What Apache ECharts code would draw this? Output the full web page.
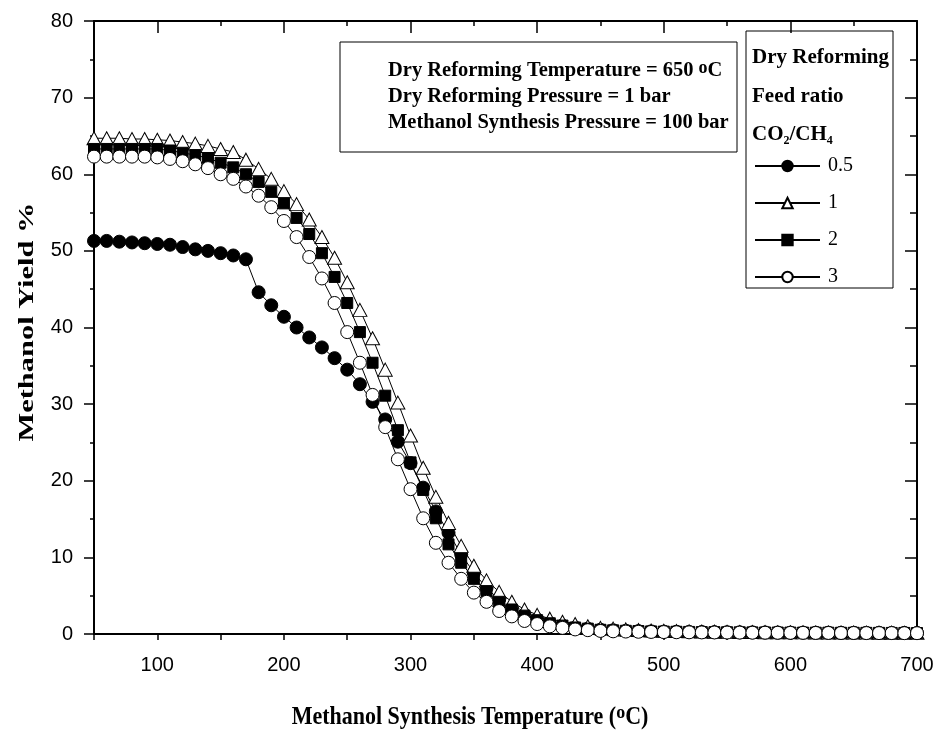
<!DOCTYPE html>
<html><head><meta charset="utf-8">
<script src="https://cdn.jsdelivr.net/npm/echarts@6/dist/echarts.min.js"></script>
<style>html,body{margin:0;padding:0;background:#fff}#c{width:940px;height:742px}</style>
</head><body><div id="c"></div>
<script>
const temps = [50,60,70,80,90,100,110,120,130,140,150,160,170,180,190,200,210,220,230,240,250,260,270,280,290,300,310,320,330,340,350,360,370,380,390,400,410,420,430,440,450,460,470,480,490,500,510,520,530,540,550,560,570,580,590,600,610,620,630,640,650,660,670,680,690,700];
const ratio05 = [51.3,51.3,51.2,51.1,51.0,50.9,50.8,50.5,50.2,50.0,49.7,49.4,48.9,44.6,42.9,41.4,40.0,38.7,37.4,36.0,34.5,32.6,30.3,28.0,25.1,22.3,19.1,16.0,13.2,10.4,8.0,6.0,4.5,3.3,2.5,1.9,1.4,1.1,0.85,0.7,0.55,0.48,0.42,0.38,0.34,0.31,0.29,0.27,0.25,0.24,0.23,0.22,0.21,0.2,0.19,0.18,0.18,0.17,0.17,0.16,0.16,0.15,0.15,0.14,0.14,0.13];
const ratio1 = [64.7,64.7,64.7,64.6,64.6,64.5,64.4,64.2,64.0,63.7,63.3,62.9,61.9,60.7,59.4,57.8,56.1,54.1,51.8,49.1,45.9,42.3,38.6,34.5,30.2,25.9,21.7,17.9,14.5,11.5,8.9,7.0,5.5,4.2,3.2,2.5,2.0,1.6,1.3,1.0,0.8,0.7,0.6,0.52,0.46,0.42,0.38,0.35,0.32,0.3,0.28,0.26,0.25,0.24,0.23,0.22,0.21,0.2,0.2,0.19,0.18,0.18,0.17,0.17,0.16,0.16];
const ratio2 = [63.3,63.3,63.3,63.3,63.3,63.3,63.1,62.8,62.5,62.1,61.5,60.9,60.0,59.0,57.7,56.2,54.3,52.2,49.7,46.6,43.2,39.4,35.4,31.1,26.6,22.4,18.8,15.1,11.7,9.3,7.2,5.6,4.2,3.2,2.4,1.8,1.4,1.1,0.85,0.7,0.55,0.48,0.42,0.38,0.34,0.31,0.29,0.27,0.25,0.24,0.23,0.22,0.21,0.2,0.19,0.18,0.18,0.17,0.17,0.16,0.16,0.15,0.15,0.14,0.14,0.13];
const ratio3 = [62.3,62.3,62.3,62.3,62.3,62.2,62.0,61.7,61.3,60.8,60.0,59.4,58.4,57.2,55.7,53.9,51.8,49.2,46.4,43.2,39.4,35.4,31.2,27.0,22.8,18.9,15.1,11.9,9.3,7.2,5.4,4.2,3.0,2.3,1.7,1.3,1.0,0.8,0.6,0.5,0.4,0.35,0.32,0.29,0.27,0.25,0.23,0.22,0.21,0.2,0.19,0.18,0.17,0.17,0.16,0.15,0.15,0.14,0.14,0.13,0.13,0.12,0.12,0.12,0.11,0.11];
const seriesNames = ['0.5','1','2','3'];
const xMajorTicks = [100,200,300,400,500,600,700];

const SERIF = '"Liberation Serif","Times New Roman",serif';
const SANS = '"Liberation Sans",Arial,sans-serif';
const chart = echarts.init(document.getElementById('c'), null, {renderer:'canvas'});

function pairs(v){ return temps.map((t,i)=>[t,v[i]]); }
const styles = [
  {symbol:'circle', size:13, fill:'#000'},
  {symbol:'triangle', size:[14,13], fill:'#fff'},
  {symbol:'rect', size:11, fill:'#000'},
  {symbol:'circle', size:13, fill:'#fff'}
];
const dataSets = [ratio05, ratio1, ratio2, ratio3];

const axisLineStyle = {show:true, onZero:false, lineStyle:{color:'#000', width:2}};
const boxFont = 'bold 20.5px ' + SERIF;
const headFont = 'bold 21px ' + SERIF;
const gridRect = {left:94, right:23, top:21, bottom:108};

const option = {
  animation:false,
  backgroundColor:'#fff',
  grid:[Object.assign({}, gridRect), Object.assign({}, gridRect)],
  xAxis:[
    {type:'value', gridIndex:0, position:'bottom', min:50, max:700, interval:50,
     axisLine:axisLineStyle,
     axisTick:{show:true, inside:false, length:6, lineStyle:{color:'#000', width:1.5}},
     axisLabel:{show:true, margin:21, fontFamily:SANS, fontSize:20, color:'#000',
       formatter:v=> (xMajorTicks.indexOf(v)>=0 ? String(v) : '')},
     splitLine:{show:false}
    },
    {type:'value', gridIndex:0, position:'top', min:50, max:700,
     axisLine:axisLineStyle,
     axisTick:{show:true, inside:true, length:12, customValues:xMajorTicks, lineStyle:{color:'#000', width:1.5}},
     axisLabel:{show:false, customValues:xMajorTicks}, splitLine:{show:false}},
    {type:'value', gridIndex:1, position:'top', min:50, max:700, interval:50,
     axisLine:{show:false, onZero:false},
     axisTick:{show:true, inside:true, length:5, lineStyle:{color:'#000', width:1.5}},
     axisLabel:{show:false}, splitLine:{show:false}}
  ],
  yAxis:[
    {type:'value', gridIndex:0, position:'left', min:0, max:80, interval:10,
     axisLine:axisLineStyle,
     axisTick:{show:true, inside:false, length:10, lineStyle:{color:'#000', width:1.5}},
     minorTick:{show:true, splitNumber:2, length:4, lineStyle:{color:'#000', width:1.5}},
     axisLabel:{margin:21, fontFamily:SANS, fontSize:20, color:'#000'},
     splitLine:{show:false}
    },
    {type:'value', gridIndex:0, position:'right', min:0, max:80, interval:10,
     axisLine:axisLineStyle,
     axisTick:{show:true, inside:true, length:12, lineStyle:{color:'#000', width:1.5}},
     minorTick:{show:true, splitNumber:2, length:7, lineStyle:{color:'#000', width:1.5}},
     axisLabel:{show:false}, splitLine:{show:false}},
    {type:'value', gridIndex:1, min:0, max:80, show:false}
  ],
  legend:{
    orient:'vertical', left:754, top:156, padding:0, itemWidth:65, itemHeight:13, itemGap:17,
    selectedMode:false, data:seriesNames,
    textStyle:{fontFamily:SERIF, fontSize:20, color:'#000', lineHeight:18, padding:[0,0,0,3]}
  },
  series: seriesNames.map((n,i)=>({
    name:n, type:'line', data:pairs(dataSets[i]),
    xAxisIndex:0, yAxisIndex:0,
    symbol:styles[i].symbol, symbolSize:styles[i].size, showAllSymbol:true,
    itemStyle:{color:styles[i].fill, borderColor:'#000', borderWidth:1},
    lineStyle:{color:'#000', width:1},
    z: 2+i
  })),
  graphic:[
    {type:'text', x:28, y:322, rotation:Math.PI/2, scaleX:1.45, z:11,
     style:{text:'Methanol Yield %', font:'bold 21px '+SERIF, fill:'#000', align:'center', verticalAlign:'middle'}},
    {type:'text', x:470, y:718, scaleY:1.1, z:11,
     style:{text:'{a|Methanol Synthesis Temperature (}{s|o}{a|C)}', align:'center', verticalAlign:'middle',
      rich:{a:{fontFamily:SERIF, fontWeight:'bold', fontSize:22, lineHeight:28, fill:'#000'},
            s:{fontFamily:SERIF, fontWeight:'bold', fontSize:18, lineHeight:14, verticalAlign:'top', fill:'#000'}}}},
    {type:'rect', shape:{x:340, y:42, width:397, height:110}, style:{fill:'#fff', stroke:'#000', lineWidth:1}, z:10},
    {type:'text', x:388, y:71, z:11, style:{text:'{a|Dry Reforming Temperature = 650 }{s|o}{a|C}', verticalAlign:'middle',
      rich:{a:{font:boxFont, lineHeight:24, fill:'#000'}, s:{fontFamily:SERIF, fontWeight:'bold', fontSize:18, lineHeight:14, verticalAlign:'top', fill:'#000'}}}},
    {type:'text', x:388, y:97, z:11, style:{text:'Dry Reforming Pressure = 1 bar', font:boxFont, fill:'#000', verticalAlign:'middle'}},
    {type:'text', x:388, y:123, z:11, style:{text:'Methanol Synthesis Pressure = 100 bar', font:boxFont, fill:'#000', verticalAlign:'middle'}},
    {type:'rect', shape:{x:746, y:31, width:147, height:257}, style:{fill:'none', stroke:'#000', lineWidth:1}, z:10},
    {type:'text', x:752, y:58, z:11, style:{text:'Dry Reforming', font:headFont, fill:'#000', verticalAlign:'middle'}},
    {type:'text', x:752, y:97, z:11, style:{text:'Feed ratio', font:headFont, fill:'#000', verticalAlign:'middle'}},
    {type:'text', x:752, y:135, z:11, style:{text:'{a|CO}{b|2}{a|/CH}{b|4}', verticalAlign:'middle',
      rich:{a:{font:headFont, lineHeight:24, fill:'#000'}, b:{fontFamily:SERIF, fontWeight:'bold', fontSize:12, lineHeight:12, verticalAlign:'bottom', fill:'#000'}}}}
  ]
};
chart.setOption(option);
</script>
</body></html>
